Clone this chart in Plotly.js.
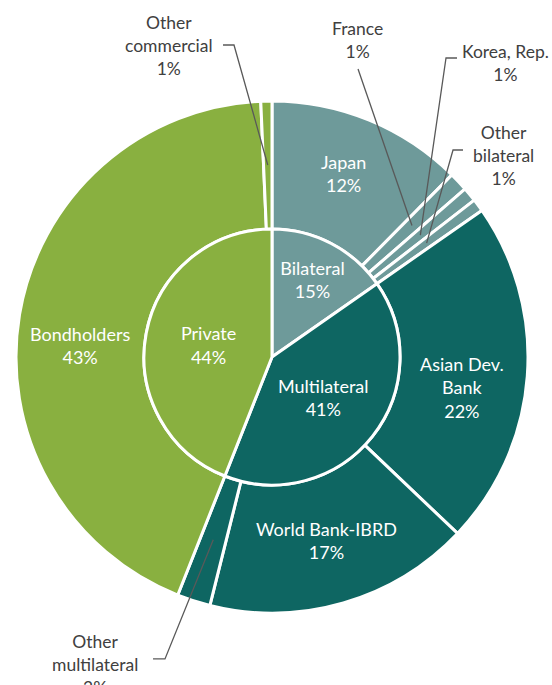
<!DOCTYPE html>
<html>
<head>
<meta charset="utf-8">
<script src="https://cdn.plot.ly/plotly-3.0.1.min.js"></script>
<style>
  html, body { margin: 0; padding: 0; background: #ffffff; }
  #chart { width: 552px; height: 685px; }
</style>
</head>
<body>
<div id="chart"></div>
<script>
// ---- data ----
const outerLabels = ['Japan', 'France', 'Korea, Rep.', 'Other bilateral', 'Asian Dev. Bank',
                     'World Bank-IBRD', 'Other multilateral', 'Bondholders', 'Other commercial'];
const outerText   = ['Japan', 'France', 'Korea, Rep.', 'Other<br>bilateral', 'Asian Dev.<br>Bank',
                     'World Bank-IBRD', 'Other<br>multilateral', 'Bondholders', 'Other<br>commercial'];
const outerValues = [12.4, 1.2, 0.9, 0.8, 21.8, 16.8, 2.1, 43.3, 0.7];
const outerParent = ['Bilateral', 'Bilateral', 'Bilateral', 'Bilateral', 'Multilateral',
                     'Multilateral', 'Multilateral', 'Private', 'Private'];
const innerLabels = ['Bilateral', 'Multilateral', 'Private'];

// ---- styling ----
const groupColors = { 'Bilateral': '#6E9A9A', 'Multilateral': '#0E6662', 'Private': '#89B040' };
const FONT = 'Lato, "Open Sans", sans-serif';
const W = 552, H = 685;
const CX = 272, CY = 357, R = 256, RIN = 128;

// inner values derived from outer
const innerValues = innerLabels.map(g =>
  outerValues.reduce((s, v, i) => s + (outerParent[i] === g ? v : 0), 0));

const px2x = p => p / W;
const py2y = p => 1 - p / H;

const outerDomain = { x: [px2x(CX - R), px2x(CX + R)], y: [py2y(CY + R), py2y(CY - R)] };
const innerDomain = { x: [px2x(CX - RIN), px2x(CX + RIN)], y: [py2y(CY + RIN), py2y(CY - RIN)] };

const outer = {
  type: 'pie', sort: false, direction: 'clockwise', rotation: 0,
  labels: outerLabels, values: outerValues,
  hole: RIN / R, domain: outerDomain,
  marker: { colors: outerParent.map(g => groupColors[g]), line: { color: '#ffffff', width: 3 } },
  textinfo: 'none', textposition: 'none',
  hoverinfo: 'none', showlegend: false
};
const inner = {
  type: 'pie', sort: false, direction: 'clockwise', rotation: 0,
  labels: innerLabels, values: innerValues, domain: innerDomain,
  marker: { colors: innerLabels.map(g => groupColors[g]), line: { color: '#ffffff', width: 3 } },
  texttemplate: '%{label}<br>%{percent:.0%}',
  textposition: 'inside', insidetextorientation: 'horizontal',
  insidetextfont: { family: FONT, size: 18, color: '#ffffff' },
  hoverinfo: 'none', showlegend: false
};

// ---- label layout (pixels): inside labels get an offset from the slice middle,
//      small slices get a callout with an elbow leader ----
const insideOffsets = {
  'Japan': [-1, -6], 'Asian Dev. Bank': [-1, 16], 'World Bank-IBRD': [1, -1], 'Bondholders': [-3, 20]
};
const callouts = {
  'France':             { lx: 357, ly: 40,  path: [[358, 69]] },
  'Korea, Rep.':        { lx: 505, ly: 63,  path: [[457, 58], [446, 58]] },
  'Other bilateral':    { lx: 504, ly: 155, path: [[463, 150], [453, 150]] },
  'Other multilateral': { lx: 95,  ly: 664, path: [[153, 659], [165, 659]] },
  'Other commercial':   { lx: 169, ly: 46,  path: [[223, 45], [234, 45]] }
};

const total = outerValues.reduce((a, b) => a + b, 0);
const annotations = [], shapes = [];
let cum = 0;
outerValues.forEach((v, i) => {
  const mid = (cum + v / 2) / total * 2 * Math.PI;
  cum += v;
  const pct = Math.round(v / total * 100) + '%';
  const name = outerLabels[i];
  const midR = (R + RIN) / 2;
  const mx = CX + midR * Math.sin(mid), my = CY - midR * Math.cos(mid);
  const c = callouts[name];
  if (c) {
    const pts = c.path.concat([[mx, my]]);
    const d = pts.map((p, k) => (k ? 'L' : 'M') + px2x(p[0]).toFixed(4) + ',' + py2y(p[1]).toFixed(4)).join(' ');
    shapes.push({ type: 'path', xref: 'paper', yref: 'paper', path: d,
                  line: { color: '#595959', width: 1.3 } });
    annotations.push({
      xref: 'paper', yref: 'paper', x: px2x(c.lx), y: py2y(c.ly),
      xanchor: 'center', yanchor: 'middle', showarrow: false,
      text: outerText[i] + '<br>' + pct,
      font: { family: FONT, size: 17.5, color: '#404040' }
    });
  } else {
    const o = insideOffsets[name] || [0, 0];
    annotations.push({
      xref: 'paper', yref: 'paper', x: px2x(mx + o[0]), y: py2y(my + o[1]),
      xanchor: 'center', yanchor: 'middle', showarrow: false,
      text: outerText[i] + '<br>' + pct,
      font: { family: FONT, size: 18, color: '#ffffff' }
    });
  }
});

const layout = {
  width: W, height: H,
  margin: { l: 0, r: 0, t: 0, b: 0 },
  paper_bgcolor: '#ffffff', plot_bgcolor: '#ffffff',
  showlegend: false,
  annotations: annotations, shapes: shapes
};

Plotly.newPlot('chart', [outer, inner], layout, { displayModeBar: false, staticPlot: true });
</script>
</body>
</html>
